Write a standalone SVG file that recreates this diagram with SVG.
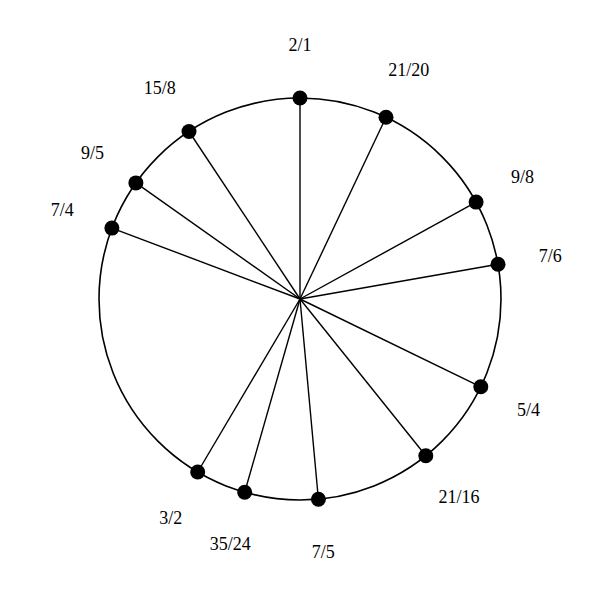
<svg xmlns="http://www.w3.org/2000/svg" width="600" height="600" viewBox="0 0 600 600">
<style>
.ring{fill:none;stroke:#000;stroke-width:1.6}
.spoke{stroke:#000;stroke-width:1.4}
.dot{fill:#000}
.lbl{font-family:"Liberation Serif","Times New Roman",serif;font-size:18px;fill:#000;text-anchor:middle}
</style>
<rect width="600" height="600" fill="#fff"/>
<circle class="ring" cx="300" cy="299" r="201"/>
<g id="connectors">
<line class="spoke" x1="300" y1="299" x2="300" y2="98"/>
<line class="spoke" x1="300" y1="299" x2="386.0" y2="117.3"/>
<line class="spoke" x1="300" y1="299" x2="476.1" y2="202.1"/>
<line class="spoke" x1="300" y1="299" x2="498.0" y2="264.3"/>
<line class="spoke" x1="300" y1="299" x2="480.8" y2="386.8"/>
<line class="spoke" x1="300" y1="299" x2="425.8" y2="455.7"/>
<line class="spoke" x1="300" y1="299" x2="318.4" y2="499.2"/>
<line class="spoke" x1="300" y1="299" x2="244.7" y2="492.2"/>
<line class="spoke" x1="300" y1="299" x2="197.7" y2="472.0"/>
<line class="spoke" x1="300" y1="299" x2="111.9" y2="228.1"/>
<line class="spoke" x1="300" y1="299" x2="135.9" y2="182.9"/>
<line class="spoke" x1="300" y1="299" x2="189.0" y2="131.5"/>
</g>
<g id="n-2-1"><circle class="dot" cx="300" cy="98" r="7.5"/><text class="lbl" x="300" y="45" dy="0.35em">2/1</text></g>
<g id="n-21-20"><circle class="dot" cx="386.0" cy="117.3" r="7.5"/><text class="lbl" x="408.7" y="69.4" dy="0.35em">21/20</text></g>
<g id="n-9-8"><circle class="dot" cx="476.1" cy="202.1" r="7.5"/><text class="lbl" x="522.6" y="176.5" dy="0.35em">9/8</text></g>
<g id="n-7-6"><circle class="dot" cx="498.0" cy="264.3" r="7.5"/><text class="lbl" x="550.2" y="255.2" dy="0.35em">7/6</text></g>
<g id="n-5-4"><circle class="dot" cx="480.8" cy="386.8" r="7.5"/><text class="lbl" x="528.5" y="409.9" dy="0.35em">5/4</text></g>
<g id="n-21-16"><circle class="dot" cx="425.8" cy="455.7" r="7.5"/><text class="lbl" x="459.0" y="497.1" dy="0.35em">21/16</text></g>
<g id="n-7-5"><circle class="dot" cx="318.4" cy="499.2" r="7.5"/><text class="lbl" x="323.2" y="551.9" dy="0.35em">7/5</text></g>
<g id="n-35-24"><circle class="dot" cx="244.7" cy="492.2" r="7.5"/><text class="lbl" x="230.2" y="543.2" dy="0.35em">35/24</text></g>
<g id="n-3-2"><circle class="dot" cx="197.7" cy="472.0" r="7.5"/><text class="lbl" x="170.7" y="517.6" dy="0.35em">3/2</text></g>
<g id="n-7-4"><circle class="dot" cx="111.9" cy="228.1" r="7.5"/><text class="lbl" x="62.3" y="209.4" dy="0.35em">7/4</text></g>
<g id="n-9-5"><circle class="dot" cx="135.9" cy="182.9" r="7.5"/><text class="lbl" x="92.6" y="152.3" dy="0.35em">9/5</text></g>
<g id="n-15-8"><circle class="dot" cx="189.0" cy="131.5" r="7.5"/><text class="lbl" x="159.7" y="87.3" dy="0.35em">15/8</text></g>
</svg>
